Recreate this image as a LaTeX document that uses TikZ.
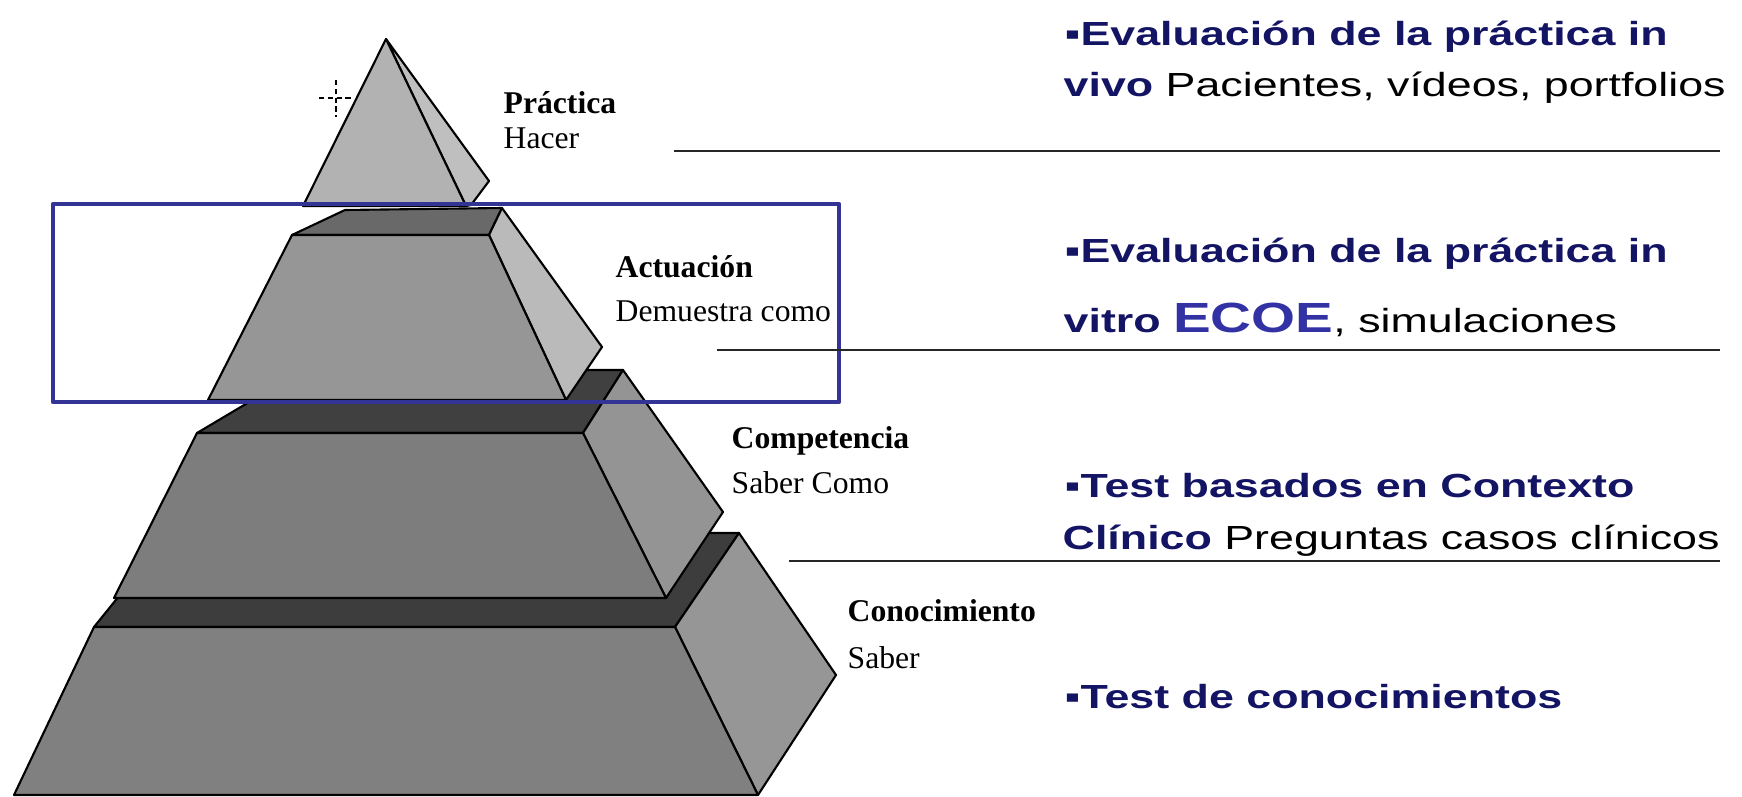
\documentclass[tikz,border=0pt]{standalone}
\usepackage{fontspec}
\setmainfont{Liberation Serif}
\newfontfamily\widesans[FakeStretch=1.34]{Liberation Sans}
\definecolor{navytext}{RGB}{20,20,100}
\definecolor{frameblue}{RGB}{52,52,150}
\definecolor{ecoeblue}{RGB}{50,50,165}
\begin{document}
\begin{tikzpicture}[x=0.01cm,y=-0.01cm,line join=round,
    face/.style={draw=black,line width=0.6pt},
    lvl/.style={anchor=base west,inner sep=0pt,font=\fontsize{9}{10}\selectfont\bfseries},
    sub/.style={anchor=base west,inner sep=0pt,font=\fontsize{9}{10}\selectfont},
    txt/.style={anchor=base west,inner sep=0pt,font=\widesans\fontsize{9.5}{11}\selectfont},
    rule/.style={line width=0.75pt,black!85}]
  \useasboundingbox (0,0) rectangle (1742,797);
  % Conocimiento
  \filldraw[face,fill=black!76] (94,627) -- (675,627) -- (739,533) -- (170,533) -- cycle;
  \filldraw[face,fill=black!41] (675,627) -- (739,533) -- (836,675) -- (758,795) -- cycle;
  \filldraw[face,fill=black!50] (94,627) -- (675,627) -- (758,795) -- (14,795) -- cycle;
  % Competencia
  \filldraw[face,fill=black!75] (197,433) -- (583,433) -- (623,370) -- (303,370) -- cycle;
  \filldraw[face,fill=black!42] (583,433) -- (623,370) -- (723,512) -- (666,598) -- cycle;
  \filldraw[face,fill=black!51] (197,433) -- (583,433) -- (666,598) -- (114,598) -- cycle;
  % Actuacion
  \filldraw[face,fill=black!59] (292,235) -- (489,235) -- (502,208) -- (345,210) -- cycle;
  \filldraw[face,fill=black!27] (489,235) -- (502,208) -- (602,347) -- (566,400) -- cycle;
  \filldraw[face,fill=black!41] (292,235) -- (489,235) -- (566,400) -- (208,400) -- cycle;
  % Practica
  \filldraw[face,fill=black!25] (386,39) -- (489,181) -- (471,205) -- (466,206) -- cycle;
  \filldraw[face,fill=black!30] (386,39) -- (466,206) -- (303,206) -- cycle;
  % cursor
  \draw[thin,dash pattern=on 1.5pt off 1pt] (336,80) -- (336,117);
  \draw[thin,dash pattern=on 1.5pt off 1pt] (319,98) -- (352,98);
  % marco
  \draw[frameblue,line width=1.2pt] (53,204) rectangle (839,402);
  % separadores
  \draw[rule] (674,151) -- (1720,151);
  \draw[rule] (717,350) -- (1720,350);
  \draw[rule] (789,561) -- (1720,561);
  % niveles
  \node[lvl] (prac) at (503,113) {Práctica};
  \node[sub] (hacer) at (503,148) {Hacer};
  \node[lvl] (actu) at (615,277) {Actuación};
  \node[sub] (demu) at (615,321) {Demuestra como};
  \node[lvl] (comp) at (731,448) {Competencia};
  \node[sub] (sabc) at (731,493) {Saber Como};
  \node[lvl] (cono) at (847,621) {Conocimiento};
  \node[sub] (saber) at (847,668) {Saber};
  % evaluacion
  \node[txt,text=navytext] (invivo) at (1064,45) {\bfseries ▪Evaluación de la práctica in};
  \node[txt] (invivob) at (1063,97) {\textcolor{navytext}{\bfseries vivo} Pacientes, vídeos, portfolios};
  \node[txt,text=navytext] (invitro) at (1064,262) {\bfseries ▪Evaluación de la práctica in};
  \node[txt] (invitrob) at (1063,332) {\textcolor{navytext}{\bfseries vitro} {\color{ecoeblue}\fontsize{12}{13}\selectfont\bfseries ECOE}, simulaciones};
  \node[txt,text=navytext] (contexto) at (1064,497) {\bfseries ▪Test basados en Contexto};
  \node[txt] (contextob) at (1062,549) {\textcolor{navytext}{\bfseries Clínico} Preguntas casos clínicos};
  \node[txt,text=navytext] (conoc) at (1064,708) {\bfseries ▪Test de conocimientos};
\end{tikzpicture}
\end{document}
